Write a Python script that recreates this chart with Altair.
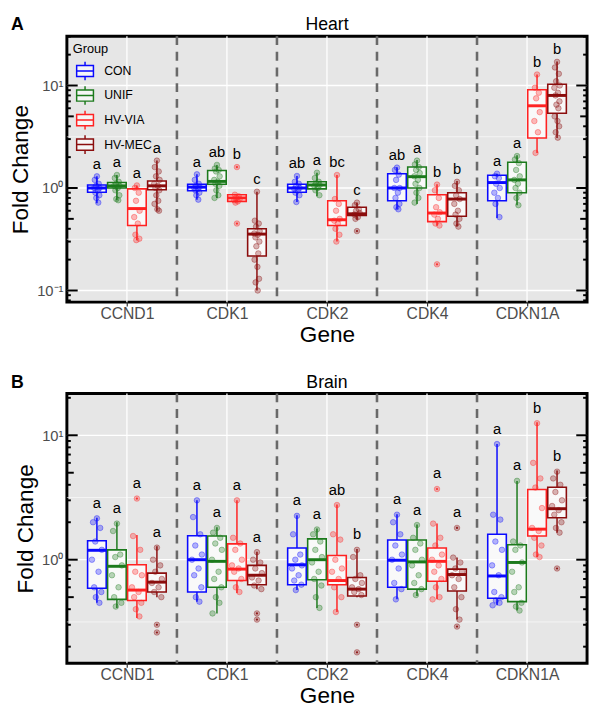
import json
import altair as alt
import pandas as pd

GENES = ["CCND1", "CDK1", "CDK2", "CDK4", "CDKN1A"]
GROUPS = ["CON", "UNIF", "HV-VIA", "HV-MEC"]
COLORS = ["#0a0aff", "#1c7a1c", "#ff2222", "#8b0d0d"]

# box statistics per gene (rows) and group (columns): [lower whisker, q1, median, q3, upper whisker]
HEART_STATS = [
    [[0.71, 0.91, 1.00, 1.07, 1.30], [0.76, 1.00, 1.05, 1.13, 1.34], [0.31, 0.43, 0.63, 0.98, 1.06], [0.60, 0.96, 1.05, 1.17, 1.85]],
    [[0.77, 0.94, 1.02, 1.09, 1.36], [0.80, 1.09, 1.16, 1.48, 1.68], [0.72, 0.74, 0.80, 0.86, 0.86], [0.10, 0.217, 0.355, 0.40, 0.92]],
    [[0.73, 0.91, 1.00, 1.09, 1.31], [0.83, 0.98, 1.07, 1.15, 1.41], [0.30, 0.43, 0.49, 0.75, 1.34], [0.49, 0.54, 0.56, 0.65, 0.72]],
    [[0.62, 0.75, 1.00, 1.38, 1.59], [0.70, 1.00, 1.29, 1.60, 1.88], [0.43, 0.47, 0.57, 0.86, 1.09], [0.42, 0.53, 0.78, 0.90, 1.17]],
    [[0.51, 0.75, 1.13, 1.33, 1.38], [0.68, 0.90, 1.20, 1.78, 2.09], [2.2, 3.07, 6.34, 9.1, 12.8], [3.07, 5.36, 8.0, 10.3, 17.1]],
]
HEART_POINTS = [
    [[1.3, 1.2, 1.1, 1.05, 1.0, 1.0, 0.95, 0.9, 0.85, 0.8, 0.72],
     [1.34, 1.25, 1.15, 1.1, 1.05, 1.05, 1.0, 0.95, 0.85, 0.78, 0.76],
     [1.06, 1.0, 0.9, 0.75, 0.6, 0.52, 0.45, 0.35, 0.32, 0.31],
     [1.85, 1.6, 1.45, 1.3, 1.2, 1.1, 1.05, 1.0, 0.95, 0.85, 0.75, 0.7, 0.62, 0.6]],
    [[1.36, 1.2, 1.1, 1.05, 1.02, 1.0, 0.98, 0.95, 0.9, 0.85, 0.77],
     [1.68, 1.55, 1.5, 1.45, 1.3, 1.2, 1.15, 1.1, 1.05, 0.95, 0.85, 0.8],
     [1.6, 0.86, 0.83, 0.8, 0.78, 0.76, 0.74, 0.72, 0.45],
     [0.92, 0.48, 0.45, 0.42, 0.38, 0.36, 0.35, 0.33, 0.3, 0.27, 0.23, 0.2, 0.17, 0.13, 0.12, 0.1]],
    [[1.31, 1.15, 1.1, 1.05, 1.0, 0.98, 0.95, 0.9, 0.85, 0.73],
     [1.41, 1.25, 1.15, 1.1, 1.07, 1.05, 1.0, 0.95, 0.85],
     [1.34, 0.78, 0.7, 0.6, 0.5, 0.48, 0.45, 0.4, 0.35, 0.3],
     [0.72, 0.68, 0.62, 0.6, 0.57, 0.55, 0.52, 0.5, 0.38]],
    [[1.58, 1.5, 1.35, 1.2, 1.0, 1.0, 0.9, 0.8, 0.7, 0.65, 0.62],
     [1.85, 1.7, 1.6, 1.5, 1.4, 1.3, 1.2, 1.1, 1.0, 0.9, 0.8, 0.72],
     [1.08, 0.95, 0.8, 0.65, 0.58, 0.55, 0.5, 0.45, 0.43, 0.18],
     [1.15, 1.05, 0.95, 0.85, 0.78, 0.7, 0.6, 0.55, 0.5, 0.45, 0.42]],
    [[1.38, 1.3, 1.25, 1.1, 1.0, 0.9, 0.8, 0.7, 0.52],
     [2.05, 1.9, 1.75, 1.5, 1.3, 1.2, 1.1, 1.0, 0.9, 0.8, 0.68],
     [12.8, 9.5, 8.5, 7.5, 5.5, 4.5, 3.5, 2.2],
     [17.0, 15.0, 13.0, 11.0, 10.0, 9.5, 8.5, 8.0, 7.0, 6.5, 6.0, 5.0, 4.5, 4.0, 3.5, 3.1]],
]
HEART_LETTERS = [["a", "a", "a", "a"], ["a", "ab", "b", "c"], ["ab", "a", "bc", "c"],
                 ["ab", "a", "b", "b"], ["a", "a", "b", "b"]]

BRAIN_STATS = [
    [[0.45, 0.59, 1.19, 1.42, 2.17], [0.41, 0.48, 0.885, 1.20, 2.00], [0.34, 0.47, 0.57, 0.91, 1.58], [0.50, 0.55, 0.66, 0.78, 1.28]],
    [[0.46, 0.55, 1.00, 1.56, 3.00], [0.37, 0.60, 0.97, 1.55, 1.82], [0.54, 0.68, 0.84, 1.34, 3.00], [0.58, 0.63, 0.75, 0.90, 1.16]],
    [[0.57, 0.63, 0.91, 1.24, 2.28], [0.41, 0.69, 1.00, 1.47, 1.78], [0.38, 0.63, 0.68, 1.08, 2.78], [0.50, 0.51, 0.58, 0.72, 1.22]],
    [[0.48, 0.60, 0.99, 1.44, 2.32], [0.51, 0.58, 0.96, 1.44, 1.92], [0.48, 0.67, 0.97, 1.24, 1.95], [0.33, 0.56, 0.76, 0.84, 1.04]],
    [[0.43, 0.49, 0.74, 1.60, 8.50], [0.39, 0.46, 0.95, 1.32, 4.30], [1.05, 1.55, 1.76, 3.66, 12.7], [1.65, 2.17, 2.57, 3.82, 5.20]],
]
BRAIN_POINTS = [
    [[2.15, 2.0, 1.8, 1.4, 1.2, 1.0, 0.8, 0.6, 0.55, 0.5, 0.45],
     [1.95, 1.7, 1.1, 1.05, 0.9, 0.75, 0.6, 0.5, 0.45, 0.42],
     [3.1, 1.55, 1.2, 0.8, 0.75, 0.6, 0.55, 0.5, 0.45, 0.4, 0.35],
     [1.25, 1.0, 0.9, 0.8, 0.7, 0.65, 0.6, 0.55, 0.5, 0.3, 0.26]],
    [[3.0, 2.2, 1.6, 1.3, 1.1, 1.0, 0.85, 0.75, 0.6, 0.5, 0.46],
     [1.8, 1.65, 1.5, 1.35, 1.2, 1.0, 0.8, 0.7, 0.6, 0.5, 0.45, 0.37],
     [3.0, 1.5, 1.35, 1.2, 1.0, 0.9, 0.85, 0.8, 0.7, 0.6, 0.55],
     [1.15, 1.0, 0.95, 0.85, 0.78, 0.72, 0.68, 0.62, 0.58, 0.37, 0.33]],
    [[2.25, 1.6, 1.1, 1.0, 0.9, 0.85, 0.75, 0.68, 0.63, 0.57],
     [1.75, 1.6, 1.4, 1.2, 1.05, 0.95, 0.8, 0.7, 0.62, 0.5, 0.41],
     [2.75, 1.6, 1.45, 1.0, 0.85, 0.8, 0.7, 0.6, 0.5, 0.38],
     [1.2, 1.05, 0.75, 0.7, 0.65, 0.6, 0.58, 0.55, 0.52, 0.3, 0.18]],
    [[2.3, 2.0, 1.6, 1.3, 1.1, 1.0, 0.85, 0.65, 0.58, 0.48],
     [1.9, 1.5, 1.35, 1.2, 1.0, 0.9, 0.75, 0.65, 0.58, 0.52],
     [3.7, 1.95, 1.5, 1.3, 1.1, 1.0, 0.9, 0.8, 0.7, 0.6, 0.5, 0.48],
     [1.8, 1.04, 0.95, 0.85, 0.8, 0.75, 0.7, 0.6, 0.5, 0.4, 0.33, 0.29]],
    [[8.5, 2.3, 2.1, 1.4, 1.2, 0.9, 0.75, 0.55, 0.5, 0.47, 0.45, 0.43],
     [4.3, 1.4, 1.3, 1.2, 0.95, 0.8, 0.6, 0.55, 0.45, 0.42, 0.39],
     [12.5, 6.0, 4.5, 3.8, 2.6, 1.8, 1.7, 1.5, 1.3, 1.1, 1.05],
     [5.1, 4.5, 4.0, 3.5, 3.0, 2.7, 2.5, 2.3, 2.0, 1.8, 1.65, 0.85]],
]
BRAIN_LETTERS = [["a", "a", "a", "a"], ["a", "a", "a", "a"], ["a", "a", "ab", "b"],
                 ["a", "a", "a", "a"], ["a", "a", "b", "b"]]

HEART_DOMAIN = [0.077, 30.3]
BRAIN_DOMAIN = [0.147, 21.7]

# ---------------------------------------------------------------- styling
W = 530
H_TOP, H_BOTTOM = 271, 275
FONT = "Liberation Sans"
JITTER = [0.0, -0.7, 0.6, -0.3, 0.9, -0.9, 0.3, -0.5, 0.8, -0.2, 0.45, -0.8, 0.15, 0.7, -0.45, 0.25]
BOX_HALF = 0.093
LEGEND_PATH = "M-0.9,-0.6H0.9V0.6H-0.9Z M-0.9,0H0.9 M0,-0.6V-1 M0,0.6V1"

xscale = alt.Scale(domain=[0.4, 5.6], nice=False, zero=False)
cscale = alt.Scale(domain=GROUPS, range=COLORS)
# same mapping, listed in another order so these guides are kept apart from the legend
sscale = alt.Scale(domain=GROUPS[::-1], range=COLORS[::-1])
perm = [1, 0, 3, 2]
fscale = alt.Scale(domain=[GROUPS[i] for i in perm], range=[COLORS[i] for i in perm])
label_expr = json.dumps(GENES) + "[datum.value - 1]"


def frames(stats, points, letters, jw):
    boxes, pts, lets = [], [], []
    for gi, gene in enumerate(GENES):
        for ki, grp in enumerate(GROUPS):
            lo, q1, med, q3, hi = stats[gi][ki]
            xc = gi + 1 + (ki - 1.5) * 0.2
            boxes.append(dict(group=grp, xc=xc, xl=xc - BOX_HALF, xr=xc + BOX_HALF,
                              lo=lo, q1=q1, med=med, q3=q3, hi=hi))
            vals = points[gi][ki]
            for j, v in enumerate(vals):
                out = v > hi * 1.001 or v < lo * 0.999
                off = 0.0 if out else JITTER[j % len(JITTER)] * jw
                pts.append(dict(group=grp, x=xc + off, xc=xc, v=v, out=out))
            lets.append(dict(group=grp, xc=xc, ly=max(vals) * 1.33, letter=letters[gi][ki]))
    return pd.DataFrame(boxes), pd.DataFrame(pts), pd.DataFrame(lets)


def panel(stats, points, letters, domain, title, tag, jw, legend, H):
    yscale = alt.Scale(type="log", domain=domain, nice=False)
    lo_d, hi_d = domain
    bdf, pdf, ldf = frames(stats, points, letters, jw)
    odf = pdf[pdf["out"]]

    major = pd.DataFrame({"v": [v for v in [0.01, 0.1, 1, 10, 100] if lo_d <= v <= hi_d]})
    minor = pd.DataFrame({"v": [v for v in [10 ** -1.5, 10 ** -0.5, 10 ** 0.5, 10 ** 1.5] if lo_d <= v <= hi_d]})
    genes_df = pd.DataFrame({"g": list(range(1, len(GENES) + 1))})
    seps = pd.DataFrame({"s": [i + 1.5 for i in range(len(GENES) - 1)]})

    ticks = {"major": [], "mid": [], "minor": []}
    for e in range(-3, 3):
        for k in range(1, 10):
            v = k * 10 ** e
            if lo_d <= v <= hi_d:
                key = "major" if k == 1 else ("mid" if k == 5 else "minor")
                ticks[key].append(v)
    tick_len = {"major": 11, "mid": 7, "minor": 4}

    yaxis = alt.Axis(values=[v for v in [0.1, 1, 10] if lo_d <= v <= hi_d],
                     labelExpr="datum.value >= 5 ? '10\u00b9' : (datum.value >= 0.5 ? '10\u2070' : '10\u207b\u00b9')",
                     labelFontSize=15, labelColor="#4d4d4d", labelFont=FONT, labelPadding=4,
                     ticks=False, domain=False, grid=False,
                     title="Fold Change", titleFontSize=23, titleFontWeight="normal",
                     titleColor="black", titleFont=FONT, titlePadding=4)
    xaxis = alt.Axis(values=list(range(1, len(GENES) + 1)), labelExpr=label_expr,
                     labelFontSize=16, labelColor="#4d4d4d", labelFont=FONT, labelPadding=0,
                     tickSize=4, tickColor="#333333", tickWidth=1.2, domain=False, grid=False,
                     title="Gene", titleFontSize=23, titleFontWeight="normal",
                     titleColor="black", titleFont=FONT, titlePadding=2)

    def Y(f):
        return alt.Y(f, scale=yscale, axis=yaxis)

    def X(f):
        return alt.X(f, scale=xscale, axis=xaxis)

    stroke_ch = alt.Stroke("group:N", scale=sscale, legend=None)
    fill_ch = alt.Fill("group:N", scale=fscale, legend=None)

    layers = []
    layers.append(alt.Chart(major).mark_rule(color="white", strokeWidth=1.3).encode(y=Y("v:Q")))
    layers.append(alt.Chart(minor).mark_rule(color="white", strokeWidth=0.6).encode(y=Y("v:Q")))
    layers.append(alt.Chart(genes_df).mark_rule(color="white", strokeWidth=1.3).encode(x=X("g:Q")))
    layers.append(alt.Chart(seps).mark_rule(color="#696969", strokeWidth=2.6, strokeDash=[9, 7]).encode(
        x=X("s:Q")))
    for key, vals in ticks.items():
        if not vals:
            continue
        tdf = pd.DataFrame({"v": vals})
        L = tick_len[key]
        layers.append(alt.Chart(tdf).mark_rule(color="black", strokeWidth=2).encode(
            y=Y("v:Q"), x=alt.value(0), x2=alt.value(L)))
        layers.append(alt.Chart(tdf).mark_rule(color="black", strokeWidth=2).encode(
            y=Y("v:Q"), x=alt.value(W - L), x2=alt.value(W)))

    layers.append(alt.Chart(bdf).mark_rect(fill="white", opacity=0.75).encode(
        x=X("xl:Q"), x2="xr:Q", y=Y("q1:Q"), y2="q3:Q"))
    layers.append(alt.Chart(bdf).mark_rule(strokeWidth=1.5).encode(
        x=X("xc:Q"), y=Y("lo:Q"), y2="q1:Q", stroke=stroke_ch))
    layers.append(alt.Chart(bdf).mark_rule(strokeWidth=1.5).encode(
        x=X("xc:Q"), y=Y("q3:Q"), y2="hi:Q", stroke=stroke_ch))
    layers.append(alt.Chart(pdf).mark_circle(size=32, fillOpacity=0.3, strokeOpacity=0.45, strokeWidth=0.8).encode(
        x=X("x:Q"), y=Y("v:Q"), fill=fill_ch, stroke=stroke_ch))
    if len(odf):
        layers.append(alt.Chart(odf).mark_circle(size=5, opacity=0.9).encode(
            x=X("xc:Q"), y=Y("v:Q"), fill=fill_ch))

    if legend:
        col_leg = alt.Color("group:N", scale=cscale, legend=alt.Legend(
            title="Group", orient="none", legendX=6, legendY=7, padding=0,
            symbolType=LEGEND_PATH, symbolSize=361, symbolStrokeWidth=1.5,
            symbolFillColor="#f6f6f6", symbolOffset=2,
            labelFontSize=12.5, labelFont=FONT, labelColor="black", labelOffset=9,
            titleFontSize=13, titleFont=FONT, titleFontWeight="normal", titleColor="black",
            titlePadding=5, rowPadding=0))
    else:
        col_leg = alt.Color("group:N", scale=cscale, legend=None)
    layers.append(alt.Chart(bdf).mark_rect(filled=False, strokeWidth=1.6).encode(
        x=X("xl:Q"), x2="xr:Q", y=Y("q1:Q"), y2="q3:Q", color=col_leg))
    layers.append(alt.Chart(bdf).mark_rule(strokeWidth=3).encode(
        x=X("xl:Q"), x2="xr:Q", y=Y("med:Q"), stroke=stroke_ch))
    layers.append(alt.Chart(ldf).mark_text(fontSize=15, font=FONT, color="black", baseline="middle").encode(
        x=X("xc:Q"), y=Y("ly:Q"), text="letter:N"))
    layers.append(alt.Chart(genes_df.head(1)).mark_text(
        text=tag, fontSize=18, fontWeight="bold", font=FONT, color="black", align="left",
        baseline="top").encode(x=alt.value(-57), y=alt.value(-20)))
    layers.append(alt.Chart(genes_df.head(1)).mark_text(
        text=title, fontSize=18, font=FONT, color="black", align="center",
        baseline="top").encode(x=alt.value(W / 2), y=alt.value(-20)))

    return alt.layer(*layers).properties(width=W, height=H)


top = panel(HEART_STATS, HEART_POINTS, HEART_LETTERS, HEART_DOMAIN, "Heart", "A", 0.03, True, H_TOP)
bottom = panel(BRAIN_STATS, BRAIN_POINTS, BRAIN_LETTERS, BRAIN_DOMAIN, "Brain", "B", 0.055, False, H_BOTTOM)

chart = alt.vconcat(top, bottom, spacing=24).resolve_scale(
    color="independent", stroke="independent", fill="independent", x="independent", y="independent"
).resolve_legend(color="independent", stroke="independent", fill="independent").properties(
    padding=0
).configure_view(fill="#e6e6e6", stroke="black", strokeWidth=3)

chart.save("out.html", embed_options={"renderer": "svg", "actions": False})
